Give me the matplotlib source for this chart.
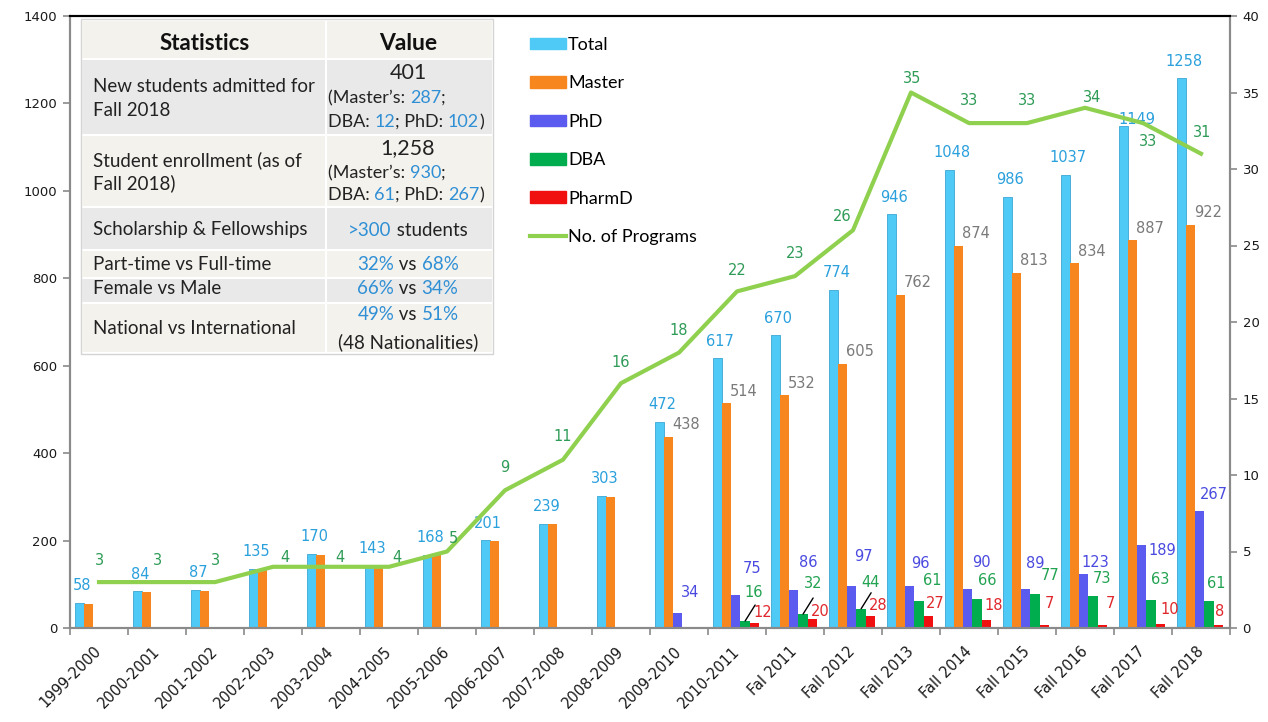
import matplotlib.pyplot as plt
from matplotlib.patches import Rectangle, Patch
from matplotlib.lines import Line2D
import numpy as np

plt.rcParams["font.family"] = ["DejaVu Sans"]

# data
years = ["1999-2000", "2000-2001", "2001-2002", "2002-2003", "2003-2004",
         "2004-2005", "2005-2006", "2006-2007", "2007-2008", "2008-2009",
         "2009-2010", "2010-2011", "Fal 2011", "Fall 2012", "Fall 2013",
         "Fall 2014", "Fall 2015", "Fall 2016", "Fall 2017", "Fall 2018"]
total = [58, 84, 87, 135, 170, 143, 168, 201, 239, 303,
         472, 617, 670, 774, 946, 1048, 986, 1037, 1149, 1258]
master = [55, 82, 85, 133, 168, 140, 166, 198, 237, 300,
          438, 514, 532, 605, 762, 874, 813, 834, 887, 922]
phd = [0, 0, 0, 0, 0, 0, 0, 0, 0, 0,
       34, 75, 86, 97, 96, 90, 89, 123, 189, 267]
dba = [0, 0, 0, 0, 0, 0, 0, 0, 0, 0,
       0, 16, 32, 44, 61, 66, 77, 73, 63, 61]
pharmd = [0, 0, 0, 0, 0, 0, 0, 0, 0, 0,
          0, 12, 20, 28, 27, 18, 7, 7, 10, 8]
programs = [3, 3, 3, 4, 4, 4, 5, 9, 11, 16,
            18, 22, 23, 26, 35, 33, 33, 34, 33, 31]

# label nudges in pixels (dx, dy with dy measured downwards), as in the picture
phd_dx = [12, 16, 14, 12, 11, 14, 9, 11, 20, 14]
phd_dy = [-21, -27, -28, -29, -23, -26, -26, -12, 5, -17]
dba_dx = [9, 10, 9, 13, 10, 15, 9, 9, 7]
dba_dy = [-29, -31, -26, -21, -19, -19, -18, -21, -18]
ph_dx = [8, 8, 8, 7, 7, 5, 8, 9, 1]
ph_dy = [-10, -8, -10, -13, -15, -21, -21, -14, -13]
prog_dx = [0, 0, 0, 12, 9, 8, 6, 0, 0, 0, 0, 0, 0, -11, 1, 0, 0, 7, 5, 1]
prog_dy = [-22, -22, -22, -9, -9, -9, -13, -23, -23, -21,
           -22, -21, -23, -14, -14, -23, -23, -10, 18, -21]

c_total, c_master, c_phd, c_dba, c_ph = "#4fc9f6", "#f7861f", "#5b5bef", "#00ad4e", "#f01010"
c_line = "#8fd14f"
l_total, l_master, l_phd, l_dba, l_ph, l_prog = "#2aa0dc", "#7a7a7a", "#4a4ae0", "#22a352", "#e0282c", "#2e9b57"
tfont = "Lato"
blue = "#2f8fd5"
ink = "#222222"

W, H = 1268, 722
fig = plt.figure(figsize=(W / 100, H / 100), dpi=100)
ax = fig.add_axes([70 / W, 94 / H, 1160 / W, 612 / H])
ax2 = ax.twinx()

x = np.arange(len(years))
bw = 0.16
series = [(total, c_total), (master, c_master), (phd, c_phd), (dba, c_dba), (pharmd, c_ph)]
for k, (vals, col) in enumerate(series):
    ax.bar(x + (k - 2) * bw - 0.02, vals, width=bw, color=col,
           edgecolor="#3aa7d4" if k == 0 else col, linewidth=0.6 if k == 0 else 0, zorder=2)

ax.set_xlim(-0.5, len(years) - 0.5)
ax.set_ylim(0, 1400)
ax.set_yticks(range(0, 1401, 200))
ax2.set_ylim(0, 40)
ax2.set_yticks(range(0, 41, 5))

ax2.plot(x, programs, color=c_line, lw=3, solid_joinstyle="round", zorder=3)

def lab(axis, text, xv, yv, dx, dy, color, **kw):
    return axis.annotate(text, xy=(xv, yv), xytext=(dx, -dy), textcoords="offset pixels",
                         ha=kw.pop("ha", "center"), va="center", color=color,
                         fontsize=10.5, zorder=5, **kw)

for i in x:
    tx = i - 2 * bw - 0.02
    if i == 18:
        lab(ax, str(total[i]), tx, total[i], 14, -6, l_total)
    else:
        lab(ax, str(total[i]), tx, total[i], 3, -17, l_total)
    if i >= 10:
        lab(ax, str(master[i]), i - bw - 0.02 + bw / 2, master[i], -1, -12, l_master, ha="left")
        j = i - 10
        lab(ax, str(phd[i]), i - 0.02, phd[i], phd_dx[j], phd_dy[j], l_phd)
    if i >= 11:
        j = i - 11
        gx = i + bw - 0.02
        lab(ax, str(dba[i]), gx, dba[i], dba_dx[j], dba_dy[j], l_dba)
        lab(ax, str(pharmd[i]), i + 2 * bw - 0.02, pharmd[i], ph_dx[j], ph_dy[j], l_ph)
        if i <= 13:
            # short leader line from the DBA bar to its label
            ax.annotate("", xy=(gx, dba[i]), xytext=(10, 16), textcoords="offset pixels",
                        arrowprops=dict(arrowstyle="-", color="black", lw=1,
                                        shrinkA=0, shrinkB=0), zorder=5)
    lab(ax2, str(programs[i]), i, programs[i], prog_dx[i], prog_dy[i], l_prog)

# axes styling
gray = "#8a8a8a"
for a in (ax, ax2):
    for s in ("left", "right", "bottom"):
        a.spines[s].set_color(gray)
        a.spines[s].set_linewidth(1.5)
    a.spines["top"].set_color("black")
    a.spines["top"].set_linewidth(1.5)
ax.tick_params(axis="y", length=5, width=1.2, color=gray, labelsize=9.5, labelcolor="#1a1a1a", pad=4)
ax2.tick_params(axis="y", length=5, width=1.2, color=gray, labelsize=9.5, labelcolor="#1a1a1a", pad=4)
ax.set_xticks(x)
ax.set_xticklabels(years, rotation=45, ha="right", va="center", rotation_mode="anchor")
ax.tick_params(axis="x", which="major", length=0, labelsize=10.5, labelcolor="#1a1a1a", pad=15)
ax.set_xticks(np.arange(-0.5, len(years)), minor=True)
ax.tick_params(axis="x", which="minor", length=5, width=1.2, color=gray)

# legend
handles = [Patch(facecolor=c, edgecolor=c) for c in (c_total, c_master, c_phd, c_dba, c_ph)]
handles.append(Line2D([], [], color=c_line, lw=3))
fig.legend(handles, ["Total", "Master", "PhD", "DBA", "PharmD", "No. of Programs"],
           loc="upper left", bbox_to_anchor=(530 / W, 1 - 37 / H), frameon=False,
           prop={"family": tfont, "size": 13}, handlelength=2.0, handleheight=0.6,
           handletextpad=0.1, labelspacing=1.24, borderpad=0, borderaxespad=0)

# statistics table drawn in pixel coordinates
tab = fig.add_axes([0, 0, 1, 1], zorder=10)
tab.set_xlim(0, W)
tab.set_ylim(H, 0)
tab.axis("off")
tab.patch.set_alpha(0)

beige, grayrow = "#f4f2ed", "#e9e9e9"
rows = [(20, 59, beige), (59, 135, grayrow), (135, 207, beige), (207, 250, grayrow),
        (250, 278, beige), (278, 303, grayrow), (303, 353, beige)]
tab.add_patch(Rectangle((81, 19), 412, 335, facecolor="white", edgecolor="#d4d4d4", lw=1))
for y0, y1, col in rows:
    tab.add_patch(Rectangle((82, y0 + 1), 243, y1 - y0 - 2, facecolor=col, edgecolor="none"))
    tab.add_patch(Rectangle((327, y0 + 1), 165, y1 - y0 - 2, facecolor=col, edgecolor="none"))

tab.text(205, 43, "Statistics", ha="center", va="center", fontsize=16, fontweight="bold",
         family=tfont, color="#111111")
tab.text(408, 43, "Value", ha="center", va="center", fontsize=16.5, fontweight="bold",
         family=tfont, color="#111111")

left_lines = [("New students admitted for", 87), ("Fall 2018", 110),
              ("Student enrollment (as of", 160), ("Fall 2018)", 183),
              ("Scholarship & Fellowships", 230), ("Part-time vs Full-time", 265),
              ("Female vs Male", 289), ("National vs International", 328)]
for s, yy in left_lines:
    tab.text(93, yy, s, ha="left", va="center", fontsize=13.5, family=tfont, color=ink)

def chain(x0, y0, parts, size=13, center=False):
    arts = []
    for s, c in parts:
        if not arts:
            t = tab.text(x0, y0, s, ha="left", va="center", fontsize=size, family=tfont, color=c)
        else:
            t = tab.annotate(s, xy=(1, 0), xycoords=arts[-1], ha="left", va="bottom",
                             fontsize=size, family=tfont, color=c)
        arts.append(t)
    if center:
        r = fig.canvas.get_renderer()
        w = arts[-1].get_window_extent(r).x1 - arts[0].get_window_extent(r).x0
        arts[0].set_x(x0 - w / 2)
    return arts

K, B = ink, blue
chain(408, 73, [("401", K)], size=15.5, center=True)
chain(328, 98, [("(Master\u2019s: ", K), ("287", B), (";", K)])
chain(328, 122, [("DBA: ", K), ("12", B), ("; PhD: ", K), ("102", B), (")", K)])
chain(408, 148, [("1,258", K)], size=15.5, center=True)
chain(328, 173, [("(Master\u2019s: ", K), ("930", B), (";", K)])
chain(328, 195, [("DBA: ", K), ("61", B), ("; PhD: ", K), ("267", B), (")", K)])
chain(408, 230, [(">300", B), (" students", K)], size=13.5, center=True)
chain(408, 265, [("32%", B), (" vs ", K), ("68%", B)], size=13.5, center=True)
chain(408, 289, [("66%", B), (" vs ", K), ("34%", B)], size=13.5, center=True)
chain(408, 315, [("49%", B), (" vs ", K), ("51%", B)], size=13.5, center=True)
chain(408, 342, [("(48 Nationalities)", K)], size=13.5, center=True)

fig.savefig("out.png", dpi=100)
